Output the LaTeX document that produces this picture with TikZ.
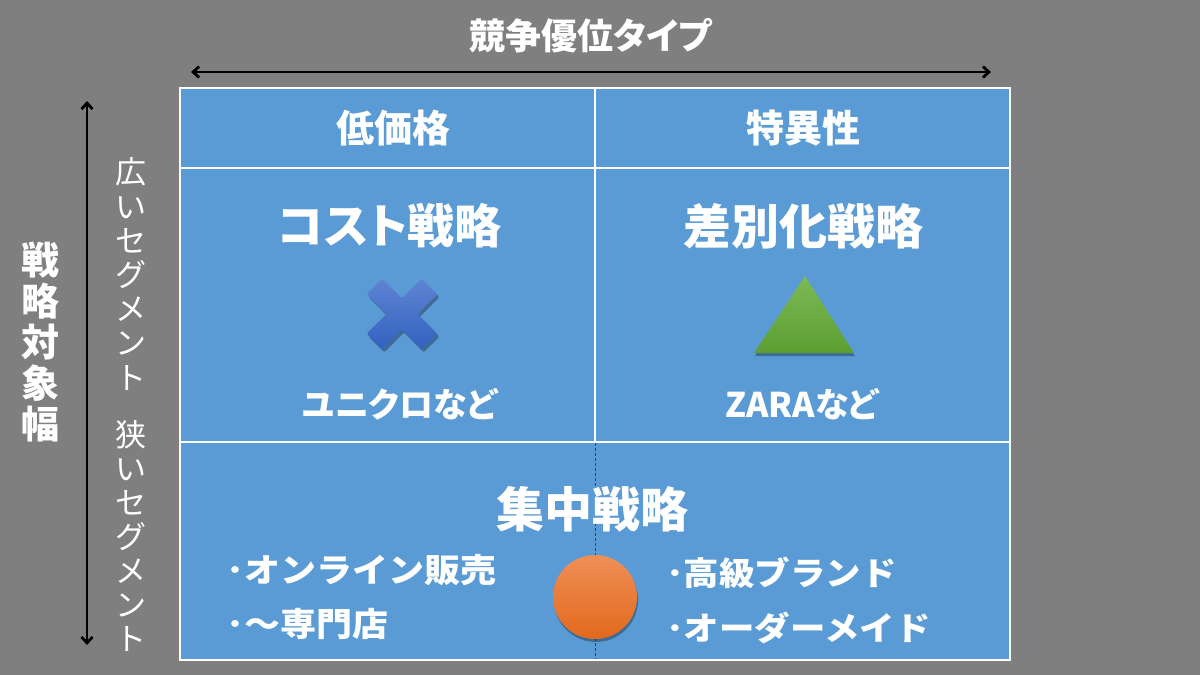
\documentclass[tikz,border=0pt]{standalone}
\usepackage{fontspec}
\newfontfamily\jp[RawFeature=+palt]{Noto Sans CJK JP}
\newfontfamily\jpfull{Noto Sans CJK JP}
\newfontfamily\jpwide[FakeStretch=1.09]{Noto Sans CJK JP}
\usetikzlibrary{arrows.meta}
\definecolor{bg}{HTML}{7F7F7F}
\definecolor{cell}{HTML}{5B9BD5}
\definecolor{xtop}{HTML}{5F84D2}
\definecolor{xbot}{HTML}{3262C0}
\definecolor{ttop}{HTML}{7DB955}
\definecolor{tbot}{HTML}{5C9E32}
\definecolor{otop}{HTML}{EF8F57}
\definecolor{obot}{HTML}{E2691C}
\begin{document}
\begin{tikzpicture}[x=1pt,y=-1pt,
  lbl/.style={text=white, inner sep=0pt, font=\jp\bfseries\fontsize{#1}{#1}\selectfont},
  blbl/.style={text=white, inner sep=0pt, anchor=west, font=\jpwide\bfseries\fontsize{#1}{#1}\selectfont},
  vlbl/.style={text=white, inner sep=0pt, align=center},
  gridline/.style={draw=white, line width=1.5pt},
  axis/.style={{Straight Barb[length=6pt,width=11pt]}-{Straight Barb[length=6pt,width=11pt]}, line width=2.8pt, black},
  dropshadow/.style={fill=black, fill opacity=0.3}]
\fill[bg] (0,0) rectangle (1200,675);
\useasboundingbox (0,0) rectangle (1200,675);
% table
\fill[cell] (180,88) rectangle (1010,660);
\draw[gridline] (180,88) rectangle (1010,660);
\draw[gridline] (180,168) -- (1010,168);
\draw[gridline] (180,442) -- (1010,442);
\draw[gridline] (595,88) -- (595,442);
\draw[densely dashed, line width=0.6pt, black!75] (595,443) -- (595,659);
% axes
\coordinate (hl) at (191,72);
\coordinate (hr) at (991,72);
\coordinate (vt) at (87,101);
\coordinate (vb) at (87,645);
\draw[axis] (hl) -- (hr);
\draw[axis] (vt) -- (vb);
\node[lbl=36] (title) at (591,36) {競争優位タイプ};
\node[vlbl, font=\jpfull\bfseries\fontsize{38}{40.8}\selectfont] (scope) at (40,342) {戦\\略\\対\\象\\幅};
\node[vlbl, font=\jpfull\fontsize{31}{34.2}\selectfont] (wide) at (131,274) {広\\い\\セ\\グ\\メ\\ン\\ト};
\node[vlbl, font=\jpfull\fontsize{31}{34}\selectfont] (narrow) at (131,536) {狭\\い\\セ\\グ\\メ\\ン\\ト};
% headers
\node[lbl=38] (low) at (393,128) {低価格};
\node[lbl=38] (uniq) at (803,128) {特異性};
% strategies
\node[lbl=47] (cost) at (390,226) {コスト戦略};
\node[lbl=48] (diff) at (803,226) {差別化戦略};
\node[lbl=34] (uniqlo) at (400,404) {ユニクロなど};
\node[lbl=34] (zara) at (802,404) {ZARAなど};
\node[lbl=48] (focus) at (592,509) {集中戦略};
\node[blbl=33] (online) at (226,570) {･オンライン販売};
\node[blbl=33] (shop) at (226,624) {･～専門店};
\node[blbl=32.5] (brand) at (666,573) {･高級ブランド};
\node[blbl=32.5] (order) at (666,628) {･オーダーメイド};
% cross mark
\begin{scope}[shift={(404,317)}]
  \fill[dropshadow, rounded corners=2pt] (0,15.56) -- (19.8,35.36) -- (35.36,19.8) -- (15.56,0) -- (35.36,-19.8) -- (19.8,-35.36) -- (0,-15.56) -- (-19.8,-35.36) -- (-35.36,-19.8) -- (-15.56,0) -- (-35.36,19.8) -- (-19.8,35.36) -- cycle;
\end{scope}
\begin{scope}[shift={(402,314)}]
  \shade[top color=xtop, bottom color=xbot, rounded corners=2pt] (0,15.56) -- (19.8,35.36) -- (35.36,19.8) -- (15.56,0) -- (35.36,-19.8) -- (19.8,-35.36) -- (0,-15.56) -- (-19.8,-35.36) -- (-35.36,-19.8) -- (-15.56,0) -- (-35.36,19.8) -- (-19.8,35.36) -- cycle;
\end{scope}
% triangle
\fill[dropshadow] (755,356) -- (855,356) -- (806,279) -- cycle;
\shade[top color=ttop, bottom color=tbot] (754,353) -- (854,353) -- (805,276) -- cycle;
% circle
\fill[dropshadow] (596,600) ellipse [x radius=42, y radius=42];
\shade[top color=otop, bottom color=obot] (595,597) ellipse [x radius=42, y radius=42];
\end{tikzpicture}
\end{document}
